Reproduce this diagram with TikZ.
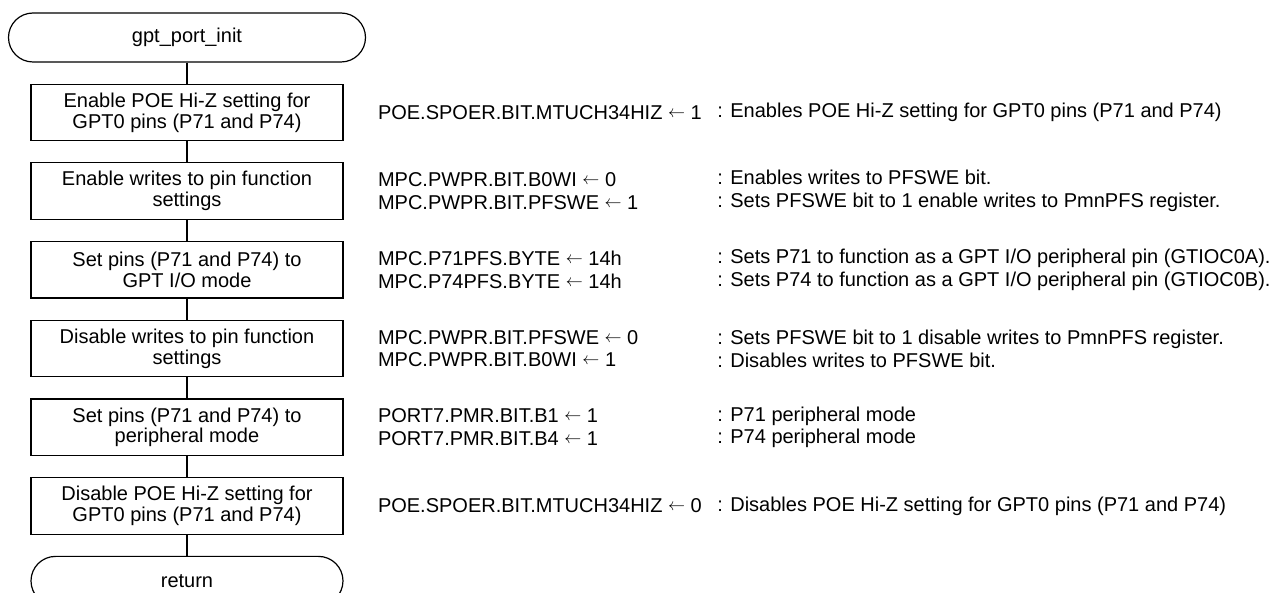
\documentclass[tikz,border=0pt]{standalone}
\usepackage{fontspec}
\setmainfont{Liberation Sans}
\usetikzlibrary{positioning}

\newcommand{\setto}{\raisebox{1pt}{\scalebox{0.85}{$\leftarrow$}}}

\begin{document}
\begin{tikzpicture}[
    x=0.5pt, y=-0.5pt, node distance=10.5pt,
    proc/.style={draw, line width=0.6pt, minimum width=156pt,
                 minimum height=28.25pt, inner sep=0pt, align=center,
                 font=\fontsize{10}{10.4}\selectfont},
    term/.style={draw, line width=0.6pt, rounded corners=12.25pt,
                 minimum height=24.5pt, inner sep=0pt,
                 font=\fontsize{10}{10.4}\selectfont},
    reg/.style={inner sep=0pt, align=left,
                font=\fontsize{10}{11.35}\selectfont},
    link/.style={line width=0.6pt}
  ]
  \useasboundingbox (0,0) rectangle (1271,593);

  % flow chart
  \node[term, minimum width=178.5pt] (start) at (187,37.5) {gpt\_port\_init};
  \node[proc, below=of start] (b1)
    {Enable POE Hi-Z setting for\\GPT0 pins (P71 and P74)};
  \node[proc, below=of b1] (b2) {Enable writes to pin function\\settings};
  \node[proc, below=of b2] (b3) {Set pins (P71 and P74) to\\GPT I/O mode};
  \node[proc, below=of b3] (b4) {Disable writes to pin function\\settings};
  \node[proc, below=of b4] (b5) {Set pins (P71 and P74) to\\peripheral mode};
  \node[proc, below=of b5] (b6)
    {Disable POE Hi-Z setting for\\GPT0 pins (P71 and P74)};
  \node[term, minimum width=156pt, below=of b6] (ret) {return};

  \foreach \a/\b in {start/b1, b1/b2, b2/b3, b3/b4, b4/b5, b5/b6, b6/ret}
    \draw[link] (\a) -- (\b);

  % register settings
  \coordinate (desccol) at (717,0);
  \node[reg, right=17pt of b1] (r1) {POE.SPOER.BIT.MTUCH34HIZ \setto{} 1};
  \node[reg, right=17pt of b2] (r2)
    {MPC.PWPR.BIT.B0WI \setto{} 0\\MPC.PWPR.BIT.PFSWE \setto{} 1};
  \node[reg, right=17pt of b3] (r3)
    {MPC.P71PFS.BYTE \setto{} 14h\\MPC.P74PFS.BYTE \setto{} 14h};
  \node[reg, right=17pt of b4] (r4)
    {MPC.PWPR.BIT.PFSWE \setto{} 0\\MPC.PWPR.BIT.B0WI \setto{} 1};
  \node[reg, right=17pt of b5] (r5)
    {PORT7.PMR.BIT.B1 \setto{} 1\\PORT7.PMR.BIT.B4 \setto{} 1};
  \node[reg, right=17pt of b6] (r6) {POE.SPOER.BIT.MTUCH34HIZ \setto{} 0};

  % descriptions
  \node[reg, anchor=west] (d1) at (b1 -| desccol)
    {: Enables POE Hi-Z setting for GPT0 pins (P71 and P74)};
  \node[reg, anchor=west] (d2) at (b2 -| desccol)
    {: Enables writes to PFSWE bit.\\: Sets PFSWE bit to 1 enable writes to PmnPFS register.};
  \node[reg, anchor=west] (d3) at (b3 -| desccol)
    {: Sets P71 to function as a GPT I/O peripheral pin (GTIOC0A).\\: Sets P74 to function as a GPT I/O peripheral pin (GTIOC0B).};
  \node[reg, anchor=west] (d4) at (b4 -| desccol)
    {: Sets PFSWE bit to 1 disable writes to PmnPFS register.\\: Disables writes to PFSWE bit.};
  \node[reg, anchor=west] (d5) at (b5 -| desccol)
    {: P71 peripheral mode\\: P74 peripheral mode};
  \node[reg, anchor=west] (d6) at (b6 -| desccol)
    {: Disables POE Hi-Z setting for GPT0 pins (P71 and P74)};
\end{tikzpicture}
\end{document}
